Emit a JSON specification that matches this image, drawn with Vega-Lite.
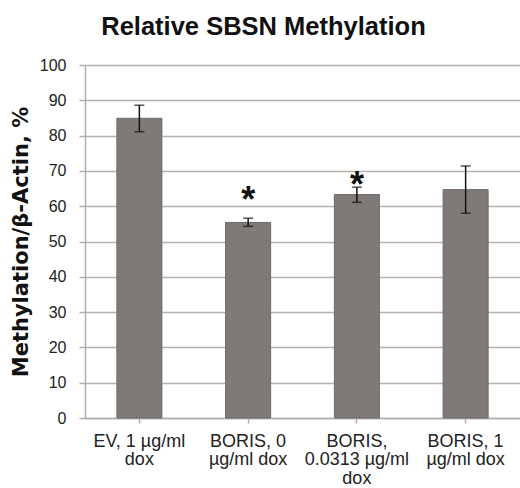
{
  "$schema": "https://vega.github.io/schema/vega-lite/v6.json",
  "width": 435,
  "height": 353,
  "autosize": {"type": "none"},
  "padding": {"left": 85, "top": 65, "right": 0, "bottom": 70},
  "background": "white",
  "title": {
    "text": "Relative SBSN Methylation",
    "font": "Liberation Sans",
    "fontSize": 25.5,
    "fontWeight": "bold",
    "color": "#111111",
    "anchor": "middle",
    "frame": "group",
    "dx": -39,
    "baseline": "alphabetic",
    "offset": -3
  },
  "data": {
    "values": [
      {"group": "EV, 1 µg/ml dox", "value": 84.9, "lo": 81.1, "hi": 88.6},
      {"group": "BORIS, 0 µg/ml dox", "value": 55.4, "lo": 54.3, "hi": 56.6, "star": 63.5},
      {"group": "BORIS, 0.0313 µg/ml dox", "value": 63.3, "lo": 61.1, "hi": 65.4, "star": 67.7},
      {"group": "BORIS, 1 µg/ml dox", "value": 64.7, "lo": 58.0, "hi": 71.4}
    ]
  },
  "config": {
    "view": {"stroke": null},
    "font": "Liberation Sans",
    "axisY": {
      "tickCount": 10,
      "titleFont": "DejaVu Sans",
      "titleFontSize": 21,
      "titleFontWeight": "bold",
      "titleColor": "#111111",
      "titlePadding": 8,
      "labelFont": "Liberation Sans",
      "labelFontSize": 16,
      "labelColor": "#222222",
      "labelPadding": 13,
      "labelOverlap": false,
      "tickSize": 6,
      "tickColor": "#b3aeac",
      "tickWidth": 1.5,
      "domainColor": "#b3aeac",
      "domainWidth": 1.5,
      "grid": true,
      "gridColor": "#b8b3b1",
      "gridWidth": 1.5
    },
    "axisX": {
      "labelAngle": 0,
      "labelFont": "Liberation Sans",
      "labelFontSize": 18,
      "labelColor": "#222222",
      "labelLineHeight": 18.5,
      "labelPadding": 9,
      "labelBaseline": "top",
      "labelLimit": 0,
      "tickOffset": -54.4,
      "tickSize": 5,
      "tickColor": "#b3aeac",
      "tickWidth": 1.5,
      "domainColor": "#b3aeac",
      "domainWidth": 1.5,
      "grid": false
    }
  },
  "encoding": {
    "x": {
      "field": "group",
      "type": "nominal",
      "sort": null,
      "scale": {"paddingInner": 0.586, "paddingOuter": 0.293},
      "axis": {
        "title": null,
        "labelExpr": "datum.value == 'BORIS, 0.0313 µg/ml dox' ? ['BORIS,', '0.0313 µg/ml', 'dox'] : datum.value == 'EV, 1 µg/ml dox' ? ['EV, 1 µg/ml', 'dox'] : datum.value == 'BORIS, 0 µg/ml dox' ? ['BORIS, 0', 'µg/ml dox'] : ['BORIS, 1', 'µg/ml dox']"
      }
    }
  },
  "layer": [
    {
      "mark": {"type": "bar", "fill": "#7f7a77", "stroke": "#6f6b69", "strokeWidth": 1},
      "encoding": {
        "y": {
          "field": "value",
          "type": "quantitative",
          "title": "Methylation/β-Actin, %",
          "scale": {"domain": [0, 100], "nice": false}
        }
      }
    },
    {
      "mark": {"type": "rule", "color": "#111111", "strokeWidth": 1.5},
      "encoding": {
        "y": {"field": "lo", "type": "quantitative", "title": "Methylation/β-Actin, %"},
        "y2": {"field": "hi"}
      }
    },
    {
      "mark": {"type": "tick", "color": "#111111", "size": 10, "thickness": 1.5},
      "encoding": {
        "y": {"field": "lo", "type": "quantitative", "title": "Methylation/β-Actin, %"}
      }
    },
    {
      "mark": {"type": "tick", "color": "#111111", "size": 10, "thickness": 1.5},
      "encoding": {
        "y": {"field": "hi", "type": "quantitative", "title": "Methylation/β-Actin, %"}
      }
    },
    {
      "transform": [{"filter": "isValid(datum.star)"}],
      "mark": {"type": "text", "text": "*", "font": "Liberation Sans", "fontSize": 36, "fontWeight": "bold", "color": "#111111", "baseline": "alphabetic", "dy": 18},
      "encoding": {
        "y": {"field": "star", "type": "quantitative", "title": "Methylation/β-Actin, %"}
      }
    }
  ]
}
